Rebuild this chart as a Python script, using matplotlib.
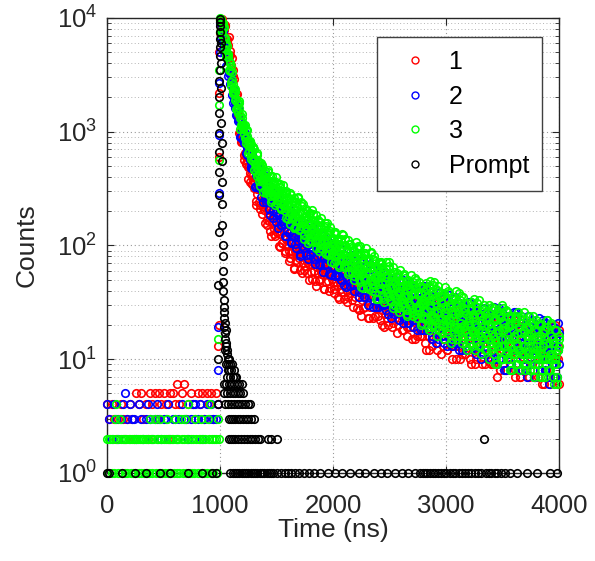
import numpy as np
import matplotlib
matplotlib.use("Agg")
import matplotlib.pyplot as plt

plt.rcParams['font.family'] = ['Liberation Sans', 'DejaVu Sans']
plt.rcParams['mathtext.default'] = 'regular'

# ---------------- data (counts) ----------------
# pre-peak background, 20 ns channels (series 1 and 2), 10 ns channels (series 3)
red_pre_y = [4,3,4,3,2,3,4,3,2,3,
             4,3,2,5,4,5,3,4,2,5,
             4,5,3,5,4,5,4,2,5,5,
             4,6,4,5,6,3,4,5,4,3,
             5,4,5,3,5,4,5,3,5,4]
blue_pre_y = [4,3,2,4,3,2,3,4,5,3,
              4,3,3,2,4,3,2,3,4,3,
              2,3,4,3,2,3,3,4,2,3,
              3,2,3,4,3,3,2,3,4,4,
              3,4,2,3,4,3,4,3,3,4]
green_pre_y = [2,1,2,2,1,2,1,3,4,2,
               1,3,2,1,2,2,1,2,1,2,
               2,1,2,1,2,1,2,2,1,2,
               1,2,2,1,2,1,2,1,3,2,
               1,2,3,1,2,2,1,3,2,1,
               2,1,2,3,1,2,1,2,2,1,
               3,2,1,2,1,3,2,1,2,3,
               1,2,4,1,2,1,2,1,3,2,
               1,2,2,3,1,2,1,2,1,3,
               2,4,1,2,1,2,2,1,3,2]

# rising edge
red_rise_t = [984, 986, 988, 990, 993, 996]
red_rise_y = [13, 20, 600, 2200, 5000, 7400]
blue_rise_t = [983, 985, 987, 989, 992, 995]
blue_rise_y = [8, 19, 290, 940, 2700, 5000]
green_rise_t = [985, 988, 991, 994, 997]
green_rise_y = [15, 560, 1700, 3500, 7500]

# decay channels: "a" at 1000..4000 ns, "b" at 1005..3995 ns, "c" at 1003..3993 ns (10 ns steps)
red_decay_a = [9600, 7910, 9390, 7760, 8650, 5680, 6300, 5810, 4520, 5140,
    3660, 3480, 2250, 2250, 2085, 1440, 1577, 967, 995, 815,
    869, 569, 646, 520, 569, 382, 436, 418, 344, 418,
    318, 358, 225, 284, 320, 227, 324, 188, 236, 204,
    260, 152, 204, 164, 207, 122, 159, 160, 127, 181,
    131, 151, 98, 127, 145, 105, 152, 90, 114, 101,
    139, 73, 109, 85, 118, 62, 89, 92, 71, 113,
    77, 95, 57, 80, 97, 66, 108, 57, 79, 69,
    97, 51, 77, 60, 84, 44, 64, 66, 51, 82,
    56, 69, 41, 59, 71, 49, 79, 42, 58, 51,
    72, 38, 57, 45, 63, 34, 48, 50, 39, 62,
    43, 53, 32, 45, 55, 38, 61, 33, 45, 40,
    60, 28, 46, 35, 52, 24, 38, 40, 29, 52,
    33, 43, 23, 36, 45, 29, 52, 24, 36, 31,
    47, 22, 36, 27, 41, 19, 30, 31, 23, 41,
    26, 34, 19, 28, 36, 23, 42, 20, 29, 25,
    39, 18, 29, 22, 33, 16, 24, 26, 19, 34,
    22, 28, 15, 23, 30, 19, 34, 16, 24, 21,
    35, 14, 25, 18, 30, 12, 21, 22, 15, 31,
    18, 25, 12, 20, 27, 16, 33, 13, 21, 18,
    30, 12, 22, 16, 26, 10, 18, 19, 13, 27,
    16, 22, 10, 17, 23, 14, 28, 11, 19, 16,
    26, 10, 19, 14, 23, 9, 16, 17, 12, 24,
    14, 19, 9, 15, 21, 12, 25, 10, 16, 14,
    25, 9, 17, 12, 21, 7, 14, 15, 10, 22,
    12, 17, 8, 14, 19, 10, 24, 8, 15, 12,
    22, 8, 15, 11, 19, 7, 12, 13, 9, 20,
    11, 16, 7, 12, 17, 9, 21, 8, 13, 11,
    20, 7, 14, 10, 17, 6, 11, 12, 8, 18,
    10, 14, 6, 11, 16, 9, 20, 7, 12, 10,
    18]
red_decay_b = [7993, 9800, 8026, 8356, 8489, 5887, 6539, 6791, 4685, 3868,
    4484, 3114, 2905, 1838, 2124, 1414, 1325, 1240, 805, 862,
    877, 623, 532, 649, 487, 504, 359, 467, 347, 365,
    396, 246, 314, 369, 242, 209, 310, 222, 246, 157,
    246, 167, 190, 210, 133, 174, 210, 140, 122, 183,
    132, 149, 97, 154, 106, 121, 134, 86, 113, 136,
    89, 77, 132, 90, 107, 63, 116, 74, 89, 104,
    61, 87, 113, 70, 61, 104, 71, 84, 50, 92,
    59, 71, 84, 49, 71, 92, 57, 49, 84, 58,
    69, 41, 76, 48, 59, 69, 40, 58, 76, 47,
    41, 70, 48, 58, 35, 64, 41, 49, 58, 34,
    49, 64, 40, 35, 60, 41, 49, 29, 54, 35,
    42, 51, 27, 43, 59, 33, 28, 54, 35, 43,
    23, 49, 29, 36, 44, 23, 36, 50, 28, 24,
    46, 30, 37, 20, 42, 25, 31, 38, 20, 31,
    43, 24, 21, 40, 26, 32, 17, 37, 22, 27,
    33, 18, 28, 38, 22, 19, 36, 23, 28, 15,
    32, 19, 24, 29, 16, 24, 34, 19, 16, 32,
    20, 26, 12, 31, 16, 22, 28, 13, 22, 33,
    17, 14, 31, 18, 24, 11, 28, 15, 20, 25,
    12, 20, 30, 15, 13, 28, 16, 22, 10, 25,
    13, 18, 23, 11, 19, 28, 14, 12, 26, 15,
    20, 9, 23, 12, 17, 21, 10, 17, 26, 13,
    11, 24, 14, 18, 9, 22, 11, 15, 20, 9,
    16, 25, 12, 9, 23, 13, 17, 8, 21, 10,
    14, 19, 8, 15, 24, 11, 9, 22, 12, 16,
    7, 20, 9, 13, 18, 7, 14, 22, 10, 8,
    20, 11, 15, 7, 18, 9, 12, 17, 7, 13,
    20, 9, 8, 19, 10, 14, 6, 17, 8, 12,
    16, 7, 12, 19, 9, 7, 18, 10, 13, 6]

blue_decay_a = [9020, 6690, 7880, 5050, 5390, 4520, 4820, 3080, 3360, 2650,
    2850, 1800, 1950, 1790, 1410, 1640, 1234, 1271, 899, 1009,
    1037, 799, 970, 645, 722, 633, 721, 483, 566, 473,
    570, 326, 415, 406, 320, 453, 324, 372, 239, 306,
    347, 251, 360, 211, 268, 234, 302, 176, 237, 191,
    243, 143, 188, 191, 152, 218, 158, 185, 120, 156,
    188, 128, 206, 108, 149, 129, 182, 95, 142, 110,
    153, 81, 117, 121, 94, 150, 103, 127, 76, 107,
    130, 89, 145, 76, 106, 92, 131, 69, 103, 81,
    112, 59, 85, 88, 68, 109, 75, 92, 55, 77,
    94, 64, 104, 55, 77, 67, 95, 50, 74, 59,
    82, 43, 62, 64, 50, 80, 54, 67, 40, 57,
    72, 46, 83, 39, 58, 49, 75, 35, 57, 43,
    64, 30, 47, 49, 36, 64, 41, 53, 29, 43,
    55, 35, 63, 30, 44, 38, 58, 27, 44, 33,
    49, 23, 36, 38, 28, 50, 32, 41, 22, 34,
    43, 28, 50, 23, 35, 30, 46, 21, 35, 26,
    39, 19, 29, 30, 23, 40, 25, 33, 18, 27,
    37, 21, 44, 18, 29, 24, 40, 16, 29, 21,
    34, 14, 24, 25, 18, 35, 21, 28, 14, 23,
    31, 18, 37, 15, 24, 20, 34, 14, 25, 18,
    29, 12, 20, 22, 15, 30, 18, 24, 12, 20,
    26, 15, 32, 13, 21, 17, 29, 12, 21, 15,
    25, 10, 17, 18, 13, 26, 15, 21, 10, 17,
    24, 13, 29, 10, 18, 15, 27, 10, 19, 13,
    23, 8, 15, 16, 11, 24, 13, 19, 8, 15,
    21, 11, 26, 9, 16, 13, 24, 8, 17, 11,
    20, 7, 13, 14, 10, 21, 12, 17, 7, 13,
    19, 10, 23, 8, 14, 12, 21, 8, 15, 10,
    18, 6, 12, 13, 9, 19, 10, 15, 7, 12,
    17]
blue_decay_b = [7496, 6329, 7670, 5643, 5541, 3790, 4649, 3283, 3210, 3128,
    2118, 2284, 2344, 1630, 1371, 1652, 1245, 1259, 890, 1148,
    839, 876, 894, 627, 716, 775, 567, 497, 625, 487,
    525, 331, 510, 340, 383, 422, 268, 348, 415, 274,
    239, 359, 258, 289, 187, 295, 202, 229, 254, 162,
    211, 256, 171, 151, 227, 165, 187, 122, 194, 134,
    155, 181, 105, 150, 194, 119, 103, 175, 119, 141,
    84, 153, 98, 119, 139, 82, 118, 153, 95, 83,
    142, 97, 115, 69, 126, 80, 97, 114, 67, 96,
    124, 77, 67, 115, 78, 93, 56, 102, 65, 79,
    92, 54, 78, 101, 62, 54, 93, 64, 76, 45,
    83, 53, 64, 75, 44, 64, 83, 51, 45, 76,
    52, 64, 35, 72, 42, 54, 65, 35, 54, 74,
    42, 35, 68, 43, 54, 29, 61, 36, 45, 55,
    29, 45, 62, 35, 30, 57, 37, 45, 25, 51,
    30, 38, 46, 25, 38, 53, 30, 26, 49, 31,
    39, 21, 44, 26, 33, 40, 21, 33, 46, 26,
    22, 42, 27, 34, 18, 38, 23, 29, 35, 18,
    29, 44, 22, 18, 40, 23, 31, 15, 36, 19,
    25, 32, 15, 26, 39, 19, 16, 36, 21, 27,
    13, 32, 17, 23, 29, 13, 23, 35, 17, 14,
    32, 19, 25, 12, 29, 15, 21, 26, 12, 21,
    32, 16, 13, 29, 17, 22, 11, 26, 14, 19,
    24, 11, 19, 28, 14, 12, 26, 15, 20, 10,
    25, 12, 17, 23, 9, 18, 28, 13, 10, 26,
    14, 19, 8, 23, 11, 16, 21, 9, 16, 26,
    12, 9, 24, 13, 18, 8, 21, 10, 14, 19,
    8, 15, 24, 11, 9, 22, 12, 16, 7, 20,
    10, 13, 18, 8, 14, 22, 10, 8, 21, 11,
    15, 7, 18, 9, 13, 17, 7, 13, 21, 9]

green_decay_a = [9900, 7590, 9120, 6700, 6730, 4580, 4890, 4850, 3500, 4000,
    2530, 2640, 2160, 2390, 1580, 1810, 1470, 1620, 1060, 1210,
    1150, 945, 1134, 872, 912, 653, 742, 772, 595, 734,
    463, 577, 494, 624, 365, 490, 395, 501, 294, 384,
    386, 308, 441, 321, 372, 243, 318, 369, 270, 396,
    236, 303, 269, 350, 207, 282, 229, 295, 175, 231,
    237, 182, 288, 196, 239, 142, 199, 239, 163, 262,
    137, 191, 165, 233, 123, 183, 143, 199, 105, 150,
    155, 119, 189, 129, 159, 94, 132, 160, 109, 176,
    93, 129, 112, 158, 84, 124, 97, 134, 71, 102,
    105, 81, 130, 89, 109, 65, 92, 111, 76, 123,
    65, 90, 78, 111, 59, 87, 68, 95, 50, 72,
    76, 56, 98, 62, 80, 43, 66, 83, 53, 94,
    44, 66, 56, 85, 40, 65, 49, 73, 34, 53,
    55, 41, 72, 46, 59, 32, 49, 62, 39, 71,
    33, 49, 42, 64, 30, 49, 37, 55, 26, 40,
    42, 31, 55, 35, 45, 25, 37, 48, 30, 55,
    26, 38, 33, 50, 23, 38, 29, 43, 20, 31,
    33, 23, 47, 27, 37, 18, 30, 40, 23, 48,
    19, 31, 26, 44, 18, 32, 23, 37, 15, 26,
    28, 19, 38, 22, 31, 15, 25, 33, 19, 40,
    16, 26, 21, 36, 14, 26, 19, 31, 12, 21,
    23, 16, 32, 18, 25, 12, 20, 27, 16, 33,
    13, 21, 18, 30, 12, 22, 16, 26, 10, 18,
    19, 13, 28, 15, 22, 9, 17, 24, 13, 30,
    10, 18, 15, 27, 10, 19, 13, 23, 8, 15,
    16, 11, 24, 13, 19, 8, 15, 21, 11, 26,
    9, 16, 13, 24, 8, 17, 11, 20, 7, 13,
    14, 9, 21, 11, 16, 7, 13, 18, 10, 22,
    8, 14, 11, 21, 7, 14, 10, 18, 6, 12,
    13]
green_decay_b = [9700, 7115, 8096, 8354, 5809, 4835, 5723, 4184, 4057, 2719,
    3329, 2298, 2242, 2245, 1567, 1765, 1863, 1331, 1143, 1428,
    1090, 1124, 799, 1039, 766, 800, 821, 580, 664, 727,
    518, 443, 651, 460, 516, 333, 528, 360, 409, 453,
    289, 379, 460, 308, 271, 410, 301, 344, 226, 364,
    253, 291, 326, 210, 277, 337, 226, 200, 304, 222,
    258, 153, 279, 177, 212, 246, 144, 205, 264, 161,
    140, 239, 162, 193, 115, 210, 134, 161, 188, 110,
    158, 203, 125, 108, 186, 126, 149, 89, 162, 103,
    124, 145, 85, 122, 158, 97, 84, 144, 98, 117,
    70, 127, 81, 98, 115, 67, 96, 125, 77, 67,
    115, 78, 93, 56, 102, 65, 79, 92, 54, 77,
    107, 60, 51, 98, 62, 77, 42, 86, 50, 64,
    77, 41, 63, 87, 49, 42, 80, 51, 63, 34,
    71, 42, 53, 64, 34, 53, 72, 41, 35, 66,
    42, 52, 28, 59, 35, 44, 53, 28, 44, 61,
    34, 29, 56, 36, 44, 24, 50, 30, 37, 45,
    24, 38, 52, 29, 25, 48, 31, 38, 21, 43,
    24, 32, 41, 19, 33, 49, 24, 20, 45, 26,
    34, 16, 40, 21, 28, 36, 17, 29, 43, 22,
    18, 40, 23, 30, 14, 35, 19, 25, 32, 15,
    25, 38, 19, 16, 35, 20, 27, 13, 31, 16,
    22, 28, 13, 23, 34, 17, 14, 31, 18, 24,
    11, 28, 15, 20, 25, 12, 20, 30, 15, 12,
    29, 16, 22, 9, 26, 13, 18, 23, 10, 18,
    28, 13, 11, 26, 14, 20, 8, 24, 11, 16,
    21, 9, 17, 26, 12, 10, 24, 13, 18, 8,
    22, 10, 15, 19, 8, 15, 24, 11, 9, 22,
    12, 16, 7, 20, 10, 13, 18, 7, 14, 22,
    10, 8, 20, 11, 15, 6, 18, 9, 12, 16]
green_decay_c = [9500, 7661, 8954, 6825, 5351, 6028, 4549, 4545, 3438, 3788,
    2848, 2175, 2411, 1885, 1955, 1550, 1779, 1394, 1122, 1326,
    1051, 1105, 885, 1039, 825, 677, 806, 643, 676, 552,
    701, 523, 407, 551, 419, 483, 374, 508, 387, 308,
    425, 326, 379, 295, 405, 311, 252, 354, 274, 321,
    253, 348, 269, 216, 301, 232, 270, 212, 292, 225,
    171, 262, 190, 233, 172, 259, 189, 145, 222, 161,
    197, 147, 222, 162, 125, 193, 141, 173, 129, 194,
    142, 109, 168, 122, 151, 112, 168, 124, 95, 146,
    106, 131, 98, 148, 108, 83, 128, 93, 115, 86,
    130, 95, 73, 113, 83, 102, 76, 115, 84, 65,
    100, 73, 90, 67, 102, 75, 58, 89, 65, 80,
    58, 95, 66, 48, 82, 56, 73, 51, 85, 58,
    43, 73, 50, 65, 46, 76, 53, 39, 66, 46,
    59, 42, 69, 48, 35, 60, 41, 53, 38, 62,
    43, 32, 54, 37, 48, 34, 57, 39, 29, 49,
    34, 44, 31, 52, 36, 27, 45, 31, 41, 29,
    48, 33, 25, 42, 29, 37, 27, 44, 30, 23,
    40, 26, 35, 23, 44, 28, 19, 37, 24, 33,
    22, 41, 26, 18, 35, 22, 31, 20, 38, 24,
    17, 33, 21, 29, 19, 35, 23, 16, 30, 19,
    27, 18, 33, 21, 15, 28, 18, 25, 17, 31,
    20, 14, 27, 17, 24, 16, 29, 19, 13, 25,
    16, 22, 15, 27, 17, 12, 23, 15, 21, 14,
    27, 16, 11, 23, 14, 20, 12, 25, 15, 10,
    21, 13, 19, 12, 24, 15, 10, 20, 12, 18,
    11, 23, 14, 9, 19, 12, 17, 11, 22, 13,
    9, 19, 11, 16, 10, 21, 13, 8, 18, 11,
    15, 10, 20, 12, 8, 17, 10, 15, 9, 19,
    12, 8, 16, 10, 14, 9, 18, 11, 7, 15]

# prompt (black)
prompt_peak_t = [982, 982, 984, 986, 988, 989, 990, 991, 992, 993, 994, 995, 996, 997, 998, 999,
                 1000, 1001, 1002, 1004, 1006, 1008, 1010, 1012, 1014, 1016, 1018, 1020, 1022, 1023,
                 1024, 1026, 1028, 1030, 1032, 1034, 1036, 1038, 1040, 1042, 1044, 1046, 1048, 1050,
                 1052, 1056, 1058, 1060, 1064, 1066, 1068, 1072, 1076, 1080, 1085, 1090, 1100, 1105,
                 1110, 1120, 1130, 1140]
prompt_peak_y = [4, 10, 45, 130, 275, 440, 660, 970, 1450, 2000, 2800, 3500, 4600, 5500, 6500, 7500,
                 9300, 9800, 8500, 6000, 4000, 2400, 1200, 800, 550, 360, 230, 150, 100, 80,
                 60, 48, 40, 33, 29, 26, 23, 19, 21, 15, 17, 12, 18, 9,
                 14, 13, 7, 11, 12, 8, 10, 9, 8, 10, 7, 9, 8, 9,
                 7, 8, 7, 7]
prompt_t_c6 = [1030, 1050, 1075, 1100, 1125, 1150, 1170, 1190]
prompt_t_c5 = [1035, 1060, 1085, 1110, 1135, 1160, 1180, 1200]
prompt_t_c4 = [1045, 1070, 1095, 1120, 1145, 1170, 1195, 1220, 1245, 1265]
prompt_t_c3 = [1075, 1095, 1115, 1135, 1155, 1175, 1200, 1225, 1250, 1275, 1300]
prompt_t_c2 = [1075, 1095, 1115, 1135, 1160, 1185, 1210, 1235, 1260, 1285, 1310, 1335,
               1355, 1420, 1450, 1500, 3336]
prompt_t_c1 = [0, 20, 130, 250, 340, 470, 560, 720, 840, 930, 960,
               1090, 1110, 1130, 1150, 1170, 1190, 1210, 1230, 1250, 1270, 1290, 1310,
               1330, 1350, 1370, 1390, 1410, 1430, 1450, 1470, 1500, 1540, 1570, 1600,
               1630, 1660, 1700, 1740, 1790, 1830, 1880, 1950, 2020, 2080, 2150, 2230,
               2280, 2360, 2420, 2480, 2550, 2610, 2660, 2720, 2770, 2790, 2810, 2830,
               2860, 2880, 2900, 2930, 2950, 2980, 3000, 3030, 3060, 3080, 3110, 3140,
               3170, 3190, 3220, 3250, 3280, 3310, 3350, 3380, 3400, 3430, 3451, 3480,
               3522, 3566, 3628, 3717, 3805, 3920, 3982]

labels = ['1', '2', '3', 'Prompt']
colors = ['#ff0000', '#0000ff', '#00ff00', '#000000']

# channel time grids
t20_pre = np.arange(0, 1000, 20)
t10_pre = np.arange(0, 1000, 10)
ta = np.arange(1000, 4001, 10)
tb = np.arange(1005, 4000, 10)
tc = np.arange(1003, 4000, 10)

red_t = np.concatenate([t20_pre, red_rise_t, ta, tb])
red_y = np.concatenate([red_pre_y, red_rise_y, red_decay_a, red_decay_b])
blue_t = np.concatenate([t20_pre, blue_rise_t, ta, tb])
blue_y = np.concatenate([blue_pre_y, blue_rise_y, blue_decay_a, blue_decay_b])
green_t = np.concatenate([t10_pre, green_rise_t, ta, tb, tc])
green_y = np.concatenate([green_pre_y, green_rise_y, green_decay_a, green_decay_b, green_decay_c])

rows = [prompt_t_c1, prompt_t_c2, prompt_t_c3, prompt_t_c4, prompt_t_c5, prompt_t_c6]
prompt_t = list(prompt_peak_t)
prompt_y = list(prompt_peak_y)
for c, tl in enumerate(rows, start=1):
    prompt_t += tl
    prompt_y += [c] * len(tl)

# ---------------- figure ----------------
fig = plt.figure(figsize=(5.95, 5.61), dpi=100)
ax = fig.add_axes([0.180, 0.157, 0.760, 0.811])

ms, mew = 5.4, 1.2
series = [(red_t, red_y), (blue_t, blue_y), (green_t, green_y), (prompt_t, prompt_y)]
for (t, y), c, lab in zip(series, colors, labels):
    ax.plot(t, y, linestyle='none', marker='o', mfc='none', mec=c, ms=ms, mew=mew,
            label=lab, clip_on=False, zorder=3)

ax.set_yscale('log')
ax.set_xlim(0, 4000)
ax.set_ylim(1, 1e4)
ax.set_xticks([0, 1000, 2000, 3000, 4000])
ax.set_yticks([1, 10, 100, 1000, 10000])

ax.grid(True, which='major', color='#9a9a9a', linestyle=(0, (1, 2.5)), linewidth=0.8)
ax.grid(True, which='minor', axis='y', color='#b4b4b4', linestyle=(0, (1, 2.5)), linewidth=0.7)
ax.set_axisbelow(True)

ax.tick_params(which='both', direction='in', top=True, right=True, colors='#262626',
               labelcolor='#262626', labelsize=18.5)
ax.tick_params(which='major', length=5, width=0.8)
ax.tick_params(axis='x', which='major', pad=15)
ax.tick_params(axis='y', which='major', pad=7)
ax.tick_params(which='minor', length=3, width=0.6)
for s in ax.spines.values():
    s.set_color('#262626')
    s.set_linewidth(1.0)

ax.set_xlabel('Time (ns)', fontsize=19, color='#262626', labelpad=0)
ax.set_ylabel('Counts', fontsize=19, color='#262626', labelpad=13)

leg = ax.legend(loc='upper right', bbox_to_anchor=(542 / 595, 1 - 37 / 561),
                bbox_transform=fig.transFigure, fontsize=18, frameon=True,
                fancybox=False, edgecolor='#404040', framealpha=1,
                borderpad=0.52, handlelength=2.06, handletextpad=0.3,
                labelspacing=0.42, borderaxespad=0)
leg.get_frame().set_linewidth(1.0)
for h in leg.legend_handles:
    h.set_markersize(5)
    h.set_markeredgewidth(1.0)

fig.savefig('out.png', dpi=100)
